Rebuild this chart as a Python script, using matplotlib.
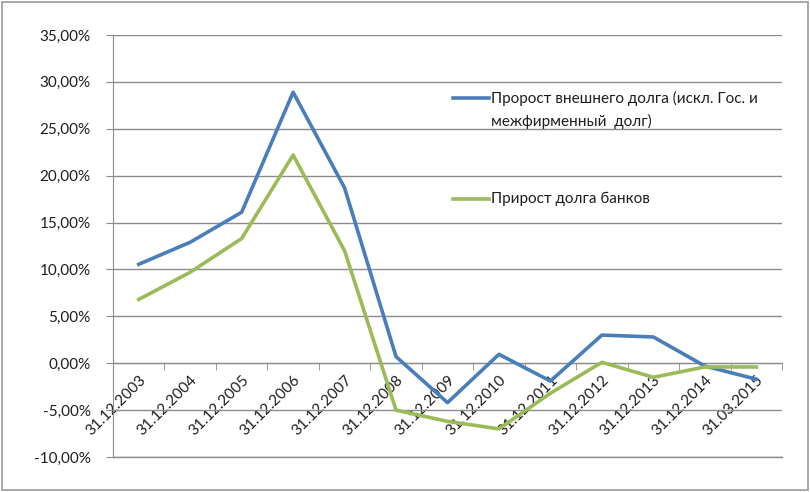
import matplotlib
matplotlib.use("Agg")
import matplotlib.pyplot as plt
from matplotlib.lines import Line2D
from matplotlib.patches import Rectangle
import numpy as np

categories = ["31.12.2003", "31.12.2004", "31.12.2005", "31.12.2006", "31.12.2007",
              "31.12.2008", "31.12.2009", "31.12.2010", "31.12.2011", "31.12.2012",
              "31.12.2013", "31.12.2014", "31.03.2015"]
external_debt = [10.55, 12.9, 16.1, 28.9, 18.7, 0.7, -4.2, 0.95, -1.9, 3.0, 2.8, -0.3, -1.7]
bank_debt = [6.8, 9.7, 13.3, 22.2, 12.0, -5.0, -6.2, -7.0, -3.2, 0.1, -1.5, -0.4, -0.4]
legend_line1 = "Пророст внешнего долга (искл. Гос. и"
legend_line2 = "межфирменный  долг)"
legend_green = "Прирост долга банков"
yticks = [-10, -5, 0, 5, 10, 15, 20, 25, 30, 35]

plt.rcParams['font.family'] = ['Lato', 'DejaVu Sans']

fig = plt.figure(figsize=(8.1, 4.92), dpi=100)
ax = fig.add_axes([113/810, 1-457/492, (782-113)/810, (457-35)/492])

blue = "#4A7EBB"
green = "#9BBB59"
grid_c = "#8C8C8C"
txt_c = "#1E1E1E"
fs = 11

x = np.arange(len(categories))
ax.plot(x, external_debt, color=blue, lw=2.6, zorder=3)
ax.plot(x, bank_debt, color=green, lw=2.6, zorder=3)

ax.set_xlim(-0.5, len(categories) - 0.5)
ax.set_ylim(-10, 35)
ax.set_yticks(yticks)
ax.set_yticklabels([f"{v:.2f}%".replace(".", ",") for v in yticks], fontsize=fs, color=txt_c)
ax.yaxis.grid(True, color=grid_c, lw=1)
ax.axhline(-10, color=grid_c, lw=1, clip_on=False, zorder=1)
ax.set_axisbelow(True)

for s in ["top", "right"]:
    ax.spines[s].set_visible(False)
ax.spines["left"].set_color(grid_c)
ax.spines["bottom"].set_position(("data", 0))
ax.spines["bottom"].set_color(grid_c)
ax.tick_params(axis="y", length=5, color=grid_c, pad=11)

ax.set_xticks(x)
ax.set_xticklabels(categories, rotation=45, ha="right", rotation_mode="anchor",
                   fontsize=fs, color=txt_c)
ax.tick_params(axis="x", which="major", length=0, pad=7)
ax.set_xticks(np.arange(-0.5, len(categories) + 0.5, 1.0), minor=True)
ax.tick_params(axis="x", which="minor", length=5, color=grid_c, direction="out")

# legend
fig.add_artist(Line2D([453/810, 489/810], [1-98/492, 1-98/492], color=blue, lw=2.6))
fig.text(491/810, 1-98/492, legend_line1, fontsize=fs, va="center", ha="left", color=txt_c)
fig.text(491/810, 1-121/492, legend_line2, fontsize=fs, va="center", ha="left", color=txt_c)
fig.add_artist(Line2D([453/810, 489/810], [1-199/492, 1-199/492], color=green, lw=2.6))
fig.text(491/810, 1-199/492, legend_green, fontsize=fs, va="center", ha="left", color=txt_c)

fig.patches.append(Rectangle((2/810, 2/492), 806/810, 488/492, transform=fig.transFigure,
                             fill=False, edgecolor="#9A9A9A", lw=1.2))

fig.savefig("out.png", dpi=100)
